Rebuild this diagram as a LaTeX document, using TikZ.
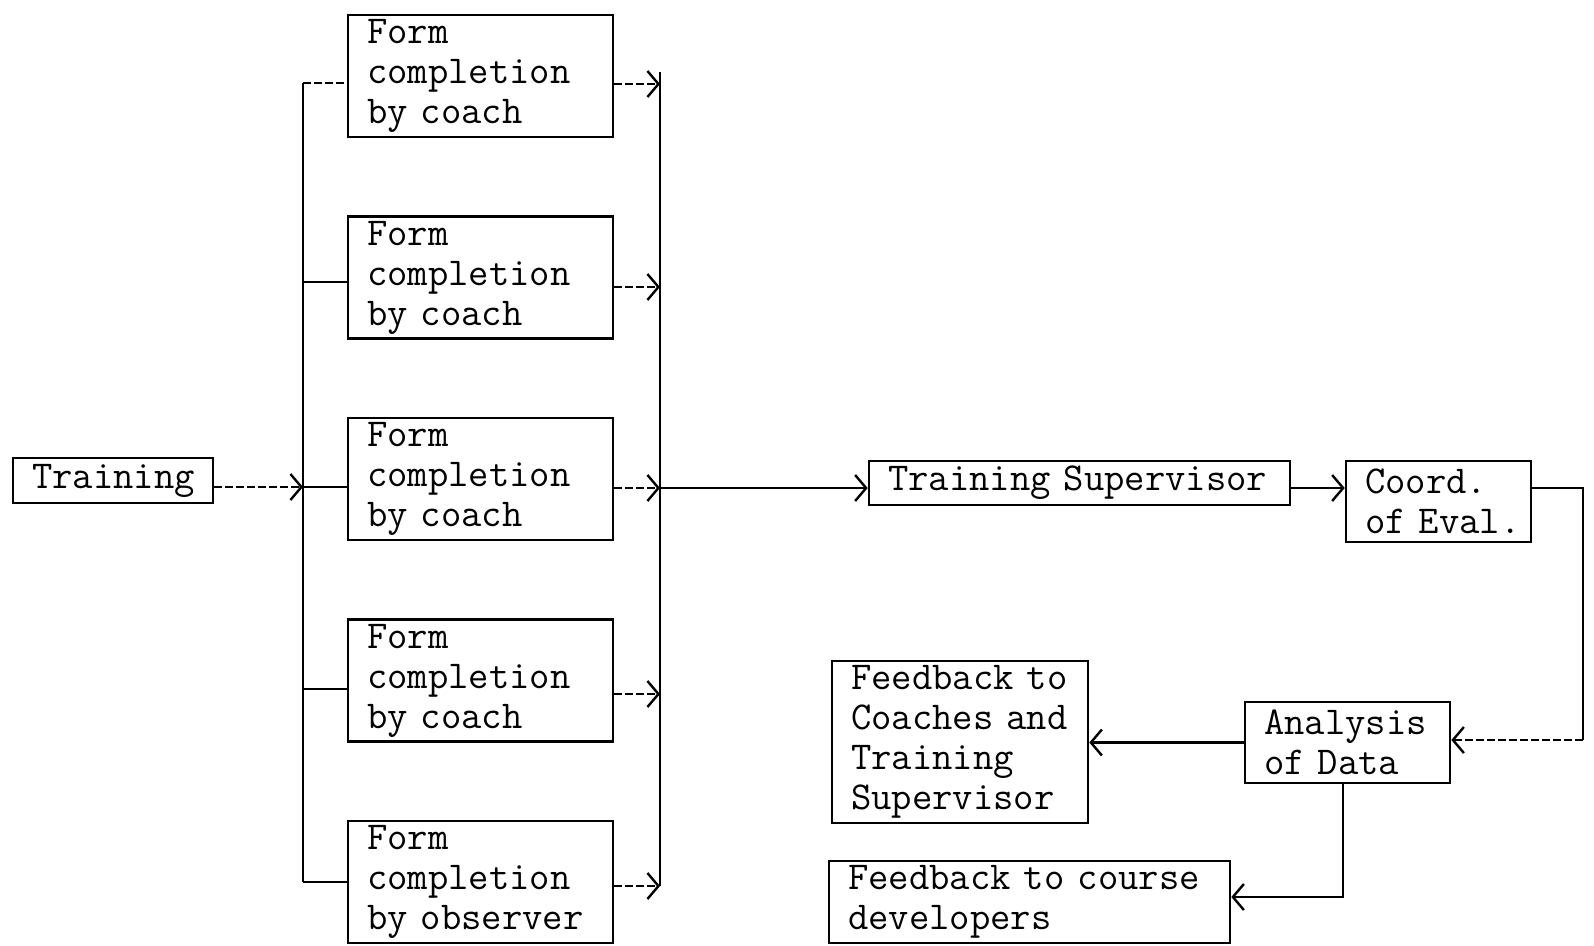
\documentclass[tikz,border=0pt]{standalone}
\usepackage{fontspec}
\usetikzlibrary{arrows.meta}
\begin{document}
\begin{tikzpicture}[x=1pt,y=-1pt,
  box/.style={draw, line width=2.6pt, inner xsep=19pt, inner ysep=0pt, align=left,
    font=\fontsize{39.5}{40}\selectfont\ttfamily, anchor=center},
  conn/.style={line width=2.6pt},
  dsh/.style={dash pattern=on 8pt off 3pt},
  arr/.style={conn, -{Straight Barb[length=11pt,width=26pt,line width=2.4pt]}}
]
\useasboundingbox (0,0) rectangle (1594,945);

% left column
\node[box, minimum width=200pt, text width=162pt, minimum height=45pt] (train) at (113,480.5) {Training};

\node[box, minimum width=265pt, text width=227pt, minimum height=122pt] (f1) at (480.5,76) {Form\\completion\\by~coach};
\node[box, minimum width=265pt, text width=227pt, minimum height=122pt] (f2) at (480.5,277.5) {Form\\completion\\by~coach};
\node[box, minimum width=265pt, text width=227pt, minimum height=122pt] (f3) at (480.5,479) {Form\\completion\\by~coach};
\node[box, minimum width=265pt, text width=227pt, minimum height=122pt] (f4) at (480.5,680.5) {Form\\completion\\by~coach};
\node[box, minimum width=265pt, text width=227pt, minimum height=122pt] (f5) at (480.5,882) {Form\\completion\\by~observer};

% right part
\node[box, minimum width=421pt, text width=383pt, minimum height=44pt] (ts) at (1079.5,483) {Training~Supervisor};
\node[box, minimum width=185pt, text width=147pt, minimum height=81pt] (coord) at (1438.5,501.5) {Coord.\\of~Eval.};
\node[box, minimum width=205pt, text width=167pt, minimum height=81pt] (anal) at (1347.5,742.5) {Analysis\\of~Data};
\node[box, minimum width=256pt, text width=218pt, minimum height=162pt] (fbc) at (960,742) {Feedback~to\\Coaches~and\\Training\\Supervisor};
\node[box, minimum width=401pt, text width=363pt, minimum height=82pt] (fcd) at (1029.5,902) {Feedback~to~course\\developers};

% left bus
\coordinate (l1) at (303,83);
\coordinate (l2) at (303,282);
\coordinate (l3) at (303,487);
\coordinate (l4) at (303,689);
\coordinate (l5) at (303,882);
\draw[conn] (l1) -- (l5);
\draw[conn,dsh] (l1) -- (l1 -| f1.west);
\draw[conn] (l2) -- (l2 -| f2.west);
\draw[conn] (l3) -- (l3 -| f3.west);
\draw[conn] (l4) -- (l4 -| f4.west);
\draw[conn] (l5) -- (l5 -| f5.west);
\draw[arr,dsh] (train.east |- l3) -- (l3);

% right bus
\coordinate (r0) at (660,72);
\coordinate (r1) at (660,84);
\coordinate (r2) at (660,287);
\coordinate (r3) at (660,488);
\coordinate (r4) at (660,694);
\coordinate (r5) at (660,886);
\draw[conn] (r0) -- (r5);
\draw[arr,dsh] (f1.east |- r1) -- (r1);
\draw[arr,dsh] (f2.east |- r2) -- (r2);
\draw[arr,dsh] (f3.east |- r3) -- (r3);
\draw[arr,dsh] (f4.east |- r4) -- (r4);
\draw[arr,dsh] (f5.east |- r5) -- (r5);
\draw[arr] (r3) -- (r3 -| ts.west);

% chain
\coordinate (t1) at (1290,488);
\draw[arr] (ts.east |- t1) -- (t1 -| coord.west);
\coordinate (c1) at (1583,488);
\coordinate (c2) at (1583,740);
\draw[conn] (coord.east |- c1) -- (c1) -- (c2);
\draw[arr,dsh] (c2) -- (c2 -| anal.east);
\draw[arr] (anal.west) -- (anal.west -| fbc.east);
\coordinate (d1) at (1343,897);
\draw[arr] (anal.south -| d1) -- (d1) -- (d1 -| fcd.east);
\end{tikzpicture}
\end{document}
